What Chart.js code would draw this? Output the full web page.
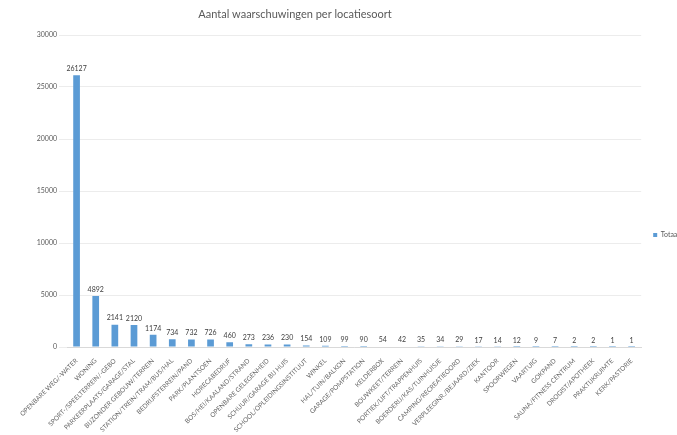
<!DOCTYPE html>
<html>
<head>
<meta charset="utf-8">
<script src="https://cdn.jsdelivr.net/npm/chart.js@4"></script>
<style>
  html, body { margin: 0; padding: 0; background: #fff; }
  #wrap { width: 677px; height: 435px; }
</style>
</head>
<body>
<div id="wrap"><canvas id="chart" width="677" height="435"></canvas></div>
<script>
const title = "Aantal waarschuwingen per locatiesoort";
const seriesName = "Totaal";

const locaties = [
  "OPENBARE WEG/-WATER", "WONING", "SPORT-/SPEELTERREIN/-GEBO", "PARKEERPLAATS/GARAGE/STAL",
  "BIJZONDER GEBOUW/TERREIN", "STATION/TREIN/TRAM/BUS/HAL", "BEDRIJFSTERREIN/PAND", "PARK/PLANTSOEN",
  "HORECABEDRIJF", "BOS/HEI/KAALAND/STRAND", "OPENBARE GELEGENHEID", "SCHUUR/GARAGE BIJ HUIS",
  "SCHOOL/OPLEIDINGSINSTITUUT", "WINKEL", "HAL/TUIN/BALKON", "GARAGE/POMPSTATION",
  "KELDERBOX", "BOUWKEET/TERREIN", "PORTIEK/LIFT/TRAPPENHUIS", "BOERDERIJ/KAS/TUINHUISJE",
  "CAMPING/RECREATIEOORD", "VERPLEEGINR./BEJAARD/ZIEK", "KANTOOR", "SPOORWEGEN",
  "VAARTUIG", "GOKPAND", "SAUNA/FITNESS CENTRUM", "DROGIST/APOTHEEK",
  "PRAKTIJKRUIMTE", "KERK/PASTORIE"
];
const totaal = [
  26127, 4892, 2141, 2120, 1174, 734, 732, 726, 460, 273, 236, 230, 154, 109, 99,
  90, 54, 42, 35, 34, 29, 17, 14, 12, 9, 7, 2, 2, 1, 1
];
const yTicks = [0, 5000, 10000, 15000, 20000, 25000, 30000];

const textColor = "#595959";
const barColor = "#5b9bd5";
const fontFamily = "Lato, 'Open Sans', sans-serif";

// value labels above every bar
const valueLabels = {
  id: "valueLabels",
  afterDatasetsDraw(chart) {
    const ctx = chart.ctx;
    const meta = chart.getDatasetMeta(0);
    ctx.save();
    ctx.font = "7px " + fontFamily;
    ctx.fillStyle = "#404040";
    ctx.textAlign = "center";
    ctx.textBaseline = "bottom";
    meta.data.forEach((bar, i) => {
      ctx.fillText(String(totaal[i]), bar.x, bar.y - 3);
    });
    ctx.restore();
  }
};

// title sits left of centre, like the cropped original
const titlePlugin = {
  id: "titlePlugin",
  afterDraw(chart) {
    const ctx = chart.ctx;
    ctx.save();
    ctx.font = "11px " + fontFamily;
    ctx.fillStyle = textColor;
    ctx.textAlign = "center";
    ctx.textBaseline = "middle";
    ctx.fillText(title, 295, 14);
    ctx.restore();
  }
};

new Chart(document.getElementById("chart"), {
  type: "bar",
  data: {
    labels: locaties,
    datasets: [{
      label: seriesName,
      data: totaal,
      backgroundColor: barColor,
      barPercentage: 0.7,
      categoryPercentage: 0.5
    }]
  },
  options: {
    responsive: false,
    animation: false,
    layout: { padding: { top: 35, left: 0, right: -12, bottom: 0 } },
    plugins: {
      title: { display: false },
      tooltip: { enabled: false },
      legend: {
        position: "right",
        labels: {
          boxWidth: 4, boxHeight: 4, padding: 12,
          color: textColor,
          font: { size: 7, family: fontFamily }
        }
      }
    },
    scales: {
      x: {
        grid: { display: false },
        border: { color: "#d9d9d9" },
        ticks: {
          autoSkip: false, maxRotation: 45, minRotation: 45,
          color: "#666666", padding: 2,
          font: { size: 6.5, family: fontFamily }
        },
        afterFit(scale) { scale.height = 88; }
      },
      y: {
        min: 0, max: 30000,
        afterBuildTicks(scale) { scale.ticks = yTicks.map(v => ({ value: v })); },
        grid: { color: "#ececec" },
        border: { display: false },
        ticks: {
          color: textColor, padding: 2,
          font: { size: 7, family: fontFamily },
          callback: v => String(v)
        },
        afterFit(scale) { scale.width = 67; }
      }
    }
  },
  plugins: [valueLabels, titlePlugin]
});
</script>
</body>
</html>
